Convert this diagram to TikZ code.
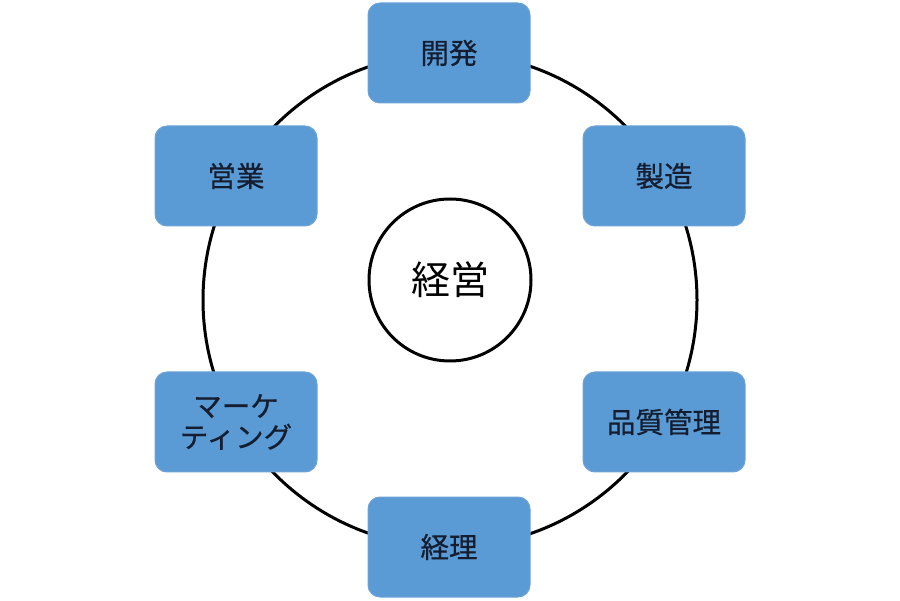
\documentclass[tikz,border=0pt]{standalone}
\usepackage{fontspec}
\newfontfamily\jp{Noto Sans CJK JP}
\newfontfamily\jpb[FakeBold=0.6]{Noto Sans CJK JP}
\definecolor{boxfill}{HTML}{5B9BD5}
\definecolor{boxline}{HTML}{6FA3D8}
\definecolor{txt}{HTML}{141E30}
\begin{document}
\begin{tikzpicture}[x=1pt,y=-1pt,
  dept/.style={draw=boxline,line width=1pt,fill=boxfill,rounded corners=12pt,
    minimum width=162pt,minimum height=100pt,inner sep=0pt,
    font=\jpb\fontsize{28.5}{32}\selectfont,text=txt,align=center},
  ring/.style={line width=3pt,black}]
\useasboundingbox (0,0) rectangle (900,601);
\fill[white] (0,0) rectangle (900,601);
\coordinate (c) at (450,300);
\draw[ring] (c) circle[radius=247];
\node[dept] (kaihatsu) at (449,53) {開発};
\node[dept] (seizo) at (664,176) {製造};
\node[dept] (hinshitsu) at (664,422) {品質管理};
\node[dept] (keiri) at (449,547) {経理};
\node[dept] (marketing) at (236,422) {マーケ\\[-1pt]ティング};
\node[dept] (eigyo) at (236,176) {営業};
\node[circle,draw,line width=3pt,minimum size=162pt,inner sep=0pt,
  font=\jp\fontsize{39}{42}\selectfont] (keiei) at (450,280) {経営};
\end{tikzpicture}
\end{document}
